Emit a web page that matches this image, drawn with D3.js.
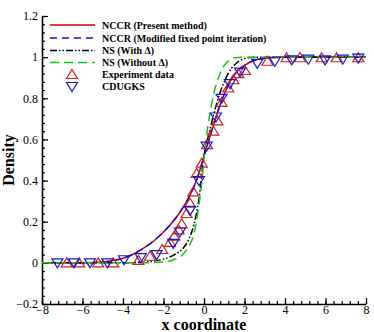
<!DOCTYPE html>
<html>
<head>
<meta charset="utf-8">
<script src="https://cdn.jsdelivr.net/npm/d3@7"></script>
<style>
  body { margin: 0; background: #fff; }
  text { font-family: "Liberation Serif", "Times New Roman", serif; }
</style>
</head>
<body>
<div id="chart-area"></div>
<script>
// curves
var nccrX = [-8, -6, -5, -4.5, -4, -3.5, -3, -2.5, -2, -1.5, -1, -0.5, -0.25, 0, 0.25, 0.5, 0.75, 1, 1.25, 1.5, 2, 2.5, 3, 4, 5, 8];
var nccrY = [0, 0, 0.004, 0.011, 0.022, 0.042, 0.07, 0.105, 0.15, 0.205, 0.275, 0.37, 0.435, 0.52, 0.6, 0.68, 0.755, 0.82, 0.875, 0.915, 0.96, 0.985, 0.995, 1, 1, 1];
var modX  = [-8, -6, -5, -4.5, -4, -3.5, -3, -2.5, -2, -1.5, -1, -0.5, -0.25, 0, 0.25, 0.5, 0.75, 1, 1.25, 1.5, 2, 2.5, 3, 4, 5, 8];
var modY  = [0, 0, 0.004, 0.011, 0.022, 0.042, 0.07, 0.105, 0.15, 0.205, 0.275, 0.37, 0.435, 0.52, 0.6, 0.68, 0.755, 0.82, 0.875, 0.915, 0.96, 0.985, 0.995, 1, 1, 1];
var nsX   = [-8, -4, -3, -2.5, -2, -1.5, -1, -0.75, -0.5, -0.25, 0, 0.25, 0.5, 0.75, 1, 1.25, 1.5, 1.75, 2, 2.5, 3, 8];
var nsY   = [0, 0, 0.003, 0.008, 0.018, 0.038, 0.075, 0.115, 0.185, 0.31, 0.52, 0.63, 0.73, 0.815, 0.88, 0.93, 0.962, 0.982, 0.993, 1, 1, 1];
var ns0X  = [-8, -3, -2, -1.5, -1, -0.75, -0.5, -0.25, -0.1, 0, 0.25, 0.5, 0.75, 1, 1.25, 1.5, 2, 8];
var ns0Y  = [0, 0, 0.004, 0.015, 0.045, 0.08, 0.14, 0.28, 0.4, 0.51, 0.7, 0.83, 0.91, 0.96, 0.985, 0.997, 1, 1];

// markers
var expX = [-6.78, -6.17, -5.22, -4.48, -3.24, -2.67, -2.06, -1.68, -1.47, -1.25, -1.1, -0.86, -0.69, -0.53, -0.36, -0.11, 0.15, 0.46, 0.66, 0.87, 1.2, 1.45, 1.7, 2.02, 3.13, 4.08, 4.74, 5.81, 6.55, 7.62];
var expY = [0, 0, 0, 0, 0.012, 0.032, 0.065, 0.1, 0.13, 0.16, 0.19, 0.24, 0.29, 0.345, 0.435, 0.485, 0.575, 0.64, 0.69, 0.78, 0.85, 0.89, 0.92, 0.935, 0.98, 0.997, 0.997, 0.997, 0.997, 0.997];
var cduX = [-7.24, -6.42, -5.63, -4.77, -3.95, -3.13, -2.34, -1.52, -1.19, -0.69, -0.25, 0.13, 0.59, 0.87, 1.28, 1.78, 2.63, 3.5, 4.33, 5.15, 5.98, 6.85, 7.62];
var cduY = [0, 0, 0, 0, 0.015, 0.025, 0.04, 0.095, 0.15, 0.255, 0.4, 0.567, 0.709, 0.8, 0.871, 0.927, 0.97, 0.98, 0.987, 0.99, 0.987, 0.99, 0.995];

var xTicks = [-8, -6, -4, -2, 0, 2, 4, 6, 8];
var yTicks = [-0.2, 0, 0.2, 0.4, 0.6, 0.8, 1, 1.2];

var margin = { top: 16, bottom: 28, left: 42, right: 8 };
var width  = 374 - margin.left - margin.right;
var height = 332 - margin.top  - margin.bottom;

var svg = d3.select("#chart-area")
    .append("svg")
        .attr("width", 374)
        .attr("height", 332);

var g = svg.append("g")
    .attr("transform", "translate(" + margin.left + ", " + margin.top + ")");

var x = d3.scaleLinear().domain([-8, 8]).range([0, width]);
var y = d3.scaleLinear().domain([-0.2, 1.2]).range([height, 0]);

// minor ticks
var xMinor = d3.range(-8, 8.001, 0.4).map(function(d) { return +d.toFixed(2); });
var yMinor = d3.range(-0.2, 1.2001, 0.04).map(function(d) { return +d.toFixed(3); });

g.append("g")
    .attr("transform", "translate(0, " + height + ")")
    .call(d3.axisBottom(x).tickValues(xMinor).tickSizeInner(-3).tickSizeOuter(0).tickFormat(""))
    .call(function(s) { s.select(".domain").remove(); });
g.append("g")
    .call(d3.axisLeft(y).tickValues(yMinor).tickSizeInner(-3).tickSizeOuter(0).tickFormat(""))
    .call(function(s) { s.select(".domain").remove(); });

var xAxis = g.append("g")
    .attr("class", "x-axis")
    .attr("transform", "translate(0, " + height + ")")
    .call(d3.axisBottom(x).tickValues(xTicks).tickSizeInner(-6).tickSizeOuter(0).tickPadding(3));
xAxis.selectAll("text").attr("font-size", "12px").attr("fill", "#000").attr("dy", "0.55em");

var yAxis = g.append("g")
    .attr("class", "y-axis")
    .call(d3.axisLeft(y).tickValues(yTicks).tickSizeInner(-6).tickSizeOuter(0).tickPadding(4)
        .tickFormat(function(d) { return d3.format("")(+d.toFixed(1)); }));
yAxis.selectAll("text").attr("font-size", "12px").attr("fill", "#000");

g.selectAll(".domain").attr("stroke", "#000").attr("stroke-width", 1.6);
g.selectAll(".tick line").attr("stroke", "#000").attr("stroke-width", 1.2);

g.append("text")
    .attr("x", width / 2)
    .attr("y", height + 26)
    .attr("text-anchor", "middle")
    .attr("font-size", "16px")
    .attr("font-weight", "bold")
    .text("x coordinate");

g.append("text")
    .attr("x", -(y(0.5)))
    .attr("y", -28)
    .attr("text-anchor", "middle")
    .attr("font-size", "16px")
    .attr("font-weight", "bold")
    .attr("transform", "rotate(-90)")
    .text("Density");

var line = d3.line()
    .x(function(d) { return x(d[0]); })
    .y(function(d) { return y(d[1]); })
    .curve(d3.curveMonotoneX);

function pairs(xs, ys) {
    return xs.map(function(v, i) { return [v, ys[i]]; });
}

var series = [
    { name: "NCCR (Present method)", xs: nccrX, ys: nccrY, color: "#c80000", dash: null },
    { name: "NCCR (Modified fixed point iteration)", xs: modX, ys: modY, color: "#1010e0", dash: "7,5" },
    { name: "NS (With \u0394)", xs: nsX, ys: nsY, color: "#000", dash: "7,2,1.5,2,1.5,2" },
    { name: "NS (Without \u0394)", xs: ns0X, ys: ns0Y, color: "#10c810", dash: "9,5" }
];

var plot = g.append("g");

series.forEach(function(s) {
    plot.append("path")
        .datum(pairs(s.xs, s.ys))
        .attr("fill", "none")
        .attr("stroke", s.color)
        .attr("stroke-width", 1.5)
        .attr("stroke-dasharray", s.dash)
        .attr("d", line);
});

function triUp(cx, cy) {
    return "M" + cx + "," + (cy - 5) + "L" + (cx + 5.5) + "," + (cy + 4) + "L" + (cx - 5.5) + "," + (cy + 4) + "Z";
}
function triDown(cx, cy) {
    return "M" + cx + "," + (cy + 5) + "L" + (cx + 5.5) + "," + (cy - 4) + "L" + (cx - 5.5) + "," + (cy - 4) + "Z";
}

plot.selectAll(".exp")
    .data(pairs(expX, expY))
    .enter()
    .append("path")
        .attr("class", "exp")
        .attr("d", function(d) { return triUp(x(d[0]), y(d[1])); })
        .attr("fill", "none")
        .attr("stroke", "#d02020")
        .attr("stroke-width", 1.2);

plot.selectAll(".cdu")
    .data(pairs(cduX, cduY))
    .enter()
    .append("path")
        .attr("class", "cdu")
        .attr("d", function(d) { return triDown(x(d[0]), y(d[1])); })
        .attr("fill", "none")
        .attr("stroke", "#1818d0")
        .attr("stroke-width", 1.2);

// legend
var legend = svg.append("g");
var rowY = [25, 38, 50.5, 62.5, 74.5, 86.5];

series.forEach(function(s, i) {
    legend.append("line")
        .attr("x1", 50).attr("x2", 95)
        .attr("y1", rowY[i]).attr("y2", rowY[i])
        .attr("stroke", s.color)
        .attr("stroke-width", 1.5)
        .attr("stroke-dasharray", s.dash);
});
legend.append("path").attr("d", triUp(72, rowY[4])).attr("fill", "none").attr("stroke", "#d02020").attr("stroke-width", 1.2);
legend.append("path").attr("d", triDown(72, rowY[5])).attr("fill", "none").attr("stroke", "#1818d0").attr("stroke-width", 1.2);

var labels = series.map(function(s) { return s.name; }).concat(["Experiment data", "CDUGKS"]);
legend.selectAll(".lab")
    .data(labels)
    .enter()
    .append("text")
        .attr("x", 102)
        .attr("y", function(d, i) { return rowY[i]; })
        .attr("dy", "0.35em")
        .attr("font-size", "10px")
        .attr("font-weight", "bold")
        .text(function(d) { return d; });
</script>
</body>
</html>
